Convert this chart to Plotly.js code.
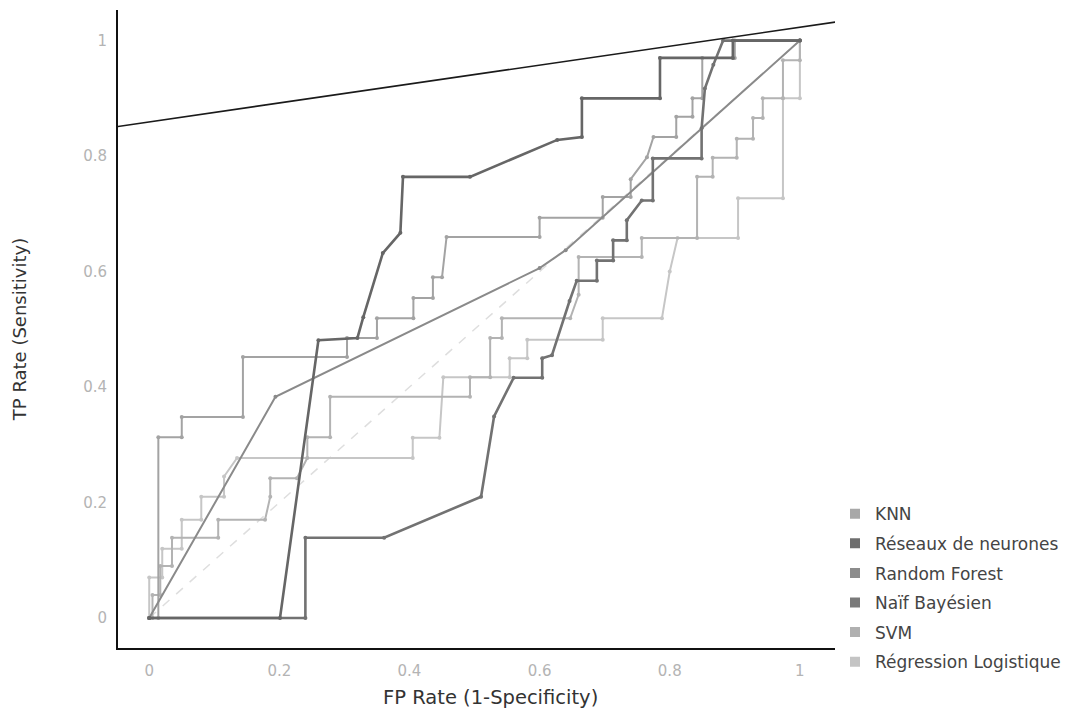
<!DOCTYPE html>
<html>
<head>
<meta charset="utf-8">
<script src="https://cdn.plot.ly/plotly-3.0.1.min.js"></script>
<style>
  html, body { margin: 0; padding: 0; background: #ffffff; }
  #chart { width: 1071px; height: 710px; }
</style>
</head>
<body>
<div id="chart"></div>
<script>
// ROC curves of six classifiers: false positive rate (x) vs true positive rate (y)
const modelNames = ["KNN", "Réseaux de neurones", "Random Forest", "Naïf Bayésien", "SVM", "Régression Logistique"];

const knnFpr = [0, 0.014, 0.014, 0.05, 0.05, 0.144, 0.144, 0.304, 0.304, 0.35, 0.35, 0.406, 0.406, 0.436, 0.436, 0.45, 0.457, 0.6, 0.6, 0.697, 0.697, 0.74, 0.74, 0.765, 0.775, 0.81, 0.81, 0.835, 0.835, 0.85, 0.85, 0.9, 0.9, 1];
const knnTpr = [0, 0, 0.313, 0.313, 0.348, 0.348, 0.452, 0.452, 0.485, 0.485, 0.519, 0.519, 0.554, 0.554, 0.59, 0.59, 0.66, 0.66, 0.693, 0.693, 0.729, 0.729, 0.76, 0.798, 0.833, 0.833, 0.868, 0.868, 0.9, 0.9, 0.97, 0.97, 1, 1];

const nnFpr = [0, 0.201, 0.26, 0.32, 0.329, 0.359, 0.386, 0.39, 0.493, 0.627, 0.665, 0.665, 0.785, 0.785, 0.897, 0.897, 1];
const nnTpr = [0, 0, 0.481, 0.485, 0.521, 0.632, 0.667, 0.764, 0.764, 0.828, 0.833, 0.9, 0.9, 0.97, 0.97, 1, 1];

const rfFpr = [0, 0.194, 0.6, 0.64, 1];
const rfTpr = [0, 0.383, 0.606, 0.637, 1];

const nbFpr = [0, 0.24, 0.24, 0.361, 0.51, 0.53, 0.56, 0.604, 0.604, 0.619, 0.646, 0.657, 0.688, 0.688, 0.713, 0.713, 0.734, 0.734, 0.757, 0.774, 0.774, 0.849, 0.849, 0.854, 0.867, 0.882, 1];
const nbTpr = [0, 0, 0.139, 0.139, 0.21, 0.349, 0.416, 0.416, 0.45, 0.455, 0.549, 0.584, 0.584, 0.619, 0.619, 0.654, 0.654, 0.689, 0.723, 0.723, 0.796, 0.796, 0.848, 0.917, 0.958, 1, 1];

const svmFpr = [0, 0.005, 0.005, 0.017, 0.017, 0.035, 0.035, 0.106, 0.106, 0.178, 0.186, 0.186, 0.227, 0.243, 0.243, 0.278, 0.278, 0.493, 0.493, 0.524, 0.524, 0.542, 0.542, 0.647, 0.66, 0.66, 0.757, 0.757, 0.842, 0.842, 0.866, 0.866, 0.903, 0.903, 0.928, 0.928, 0.943, 0.943, 0.974, 0.974, 1, 1];
const svmTpr = [0, 0, 0.04, 0.04, 0.09, 0.09, 0.139, 0.139, 0.17, 0.17, 0.21, 0.242, 0.242, 0.277, 0.313, 0.313, 0.383, 0.383, 0.417, 0.417, 0.485, 0.485, 0.519, 0.519, 0.56, 0.625, 0.625, 0.658, 0.658, 0.764, 0.764, 0.797, 0.797, 0.83, 0.83, 0.866, 0.866, 0.9, 0.9, 0.966, 0.966, 1];

const lrFpr = [0, 0, 0.02, 0.02, 0.05, 0.05, 0.08, 0.08, 0.115, 0.115, 0.135, 0.405, 0.405, 0.446, 0.452, 0.554, 0.554, 0.581, 0.581, 0.697, 0.697, 0.788, 0.8, 0.812, 0.905, 0.905, 0.974, 0.974, 1, 1];
const lrTpr = [0, 0.07, 0.07, 0.12, 0.12, 0.17, 0.17, 0.21, 0.21, 0.245, 0.277, 0.277, 0.312, 0.312, 0.417, 0.417, 0.45, 0.45, 0.482, 0.482, 0.519, 0.519, 0.6, 0.658, 0.658, 0.727, 0.727, 0.9, 0.9, 1];

// reference diagonal (random classifier) and the straight iso-performance line
const chanceX = [0, 1];
const chanceY = [0, 1];
const isoX = [-0.05, 1.06];
const isoY = [0.851, 1.033];

const xTitle = "FP Rate (1-Specificity)";
const yTitle = "TP Rate (Sensitivity)";

const lineColors = ["#a3a3a3", "#666666", "#8a8a8a", "#727272", "#b3b3b3", "#c6c6c6"];
const legendColors = ["#a8a8a8", "#6e6e6e", "#8c8c8c", "#7a7a7a", "#b0b0b0", "#c4c4c4"];
const lineWidths = [2, 2.6, 2, 2.6, 2, 2];

const curveData = [
  [knnFpr, knnTpr],
  [nnFpr, nnTpr],
  [rfFpr, rfTpr],
  [nbFpr, nbTpr],
  [svmFpr, svmTpr],
  [lrFpr, lrTpr]
];

const traces = [];

traces.push({
  x: chanceX, y: chanceY, mode: "lines", showlegend: false, hoverinfo: "skip",
  line: { color: "#dedede", width: 1.5, dash: "dash" }
});

// light curves first so the darker ones sit on top
const drawOrder = [5, 4, 0, 2, 3, 1];
drawOrder.forEach(function (i) {
  traces.push({
    x: curveData[i][0], y: curveData[i][1],
    mode: "lines+markers", showlegend: false, name: modelNames[i],
    line: { color: lineColors[i], width: lineWidths[i] },
    marker: { color: lineColors[i], size: 4 }
  });
});

traces.push({
  x: isoX, y: isoY, mode: "lines", showlegend: false, hoverinfo: "skip",
  line: { color: "#1a1a1a", width: 1.6 }
});

// square swatches for the legend
modelNames.forEach(function (name, i) {
  traces.push({
    x: [null], y: [null], mode: "markers", name: name, legendgroup: "g" + i,
    marker: { symbol: "square", size: 10, color: legendColors[i] }
  });
});

const layout = {
  width: 1071, height: 710,
  paper_bgcolor: "#ffffff", plot_bgcolor: "#ffffff",
  margin: { l: 118, r: 236, t: 10, b: 62, autoexpand: false },
  font: { family: "DejaVu Sans, Verdana, sans-serif", color: "#333333" },
  showlegend: true,
  legend: {
    x: 1.0, xanchor: "left", y: 0.238, yanchor: "top",
    traceorder: "grouped", tracegroupgap: 4.5,
    font: { size: 17, color: "#444444", family: "DejaVu Sans, Verdana, sans-serif" },
    bgcolor: "rgba(0,0,0,0)"
  },
  // x-axis title sits slightly right of the axis centre
  annotations: [{
    text: xTitle, xref: "paper", yref: "paper", x: 0.519, y: -0.077,
    xanchor: "center", yanchor: "middle", showarrow: false,
    font: { size: 19.5, color: "#333333" }
  }],
  xaxis: {
    range: [-0.048, 1.054], showgrid: false, zeroline: false,
    showline: true, linecolor: "#111111", linewidth: 1.6, mirror: false,
    tickvals: [0, 0.2, 0.4, 0.6, 0.8, 1], ticktext: ["0", "0.2", "0.4", "0.6", "0.8", "1"],
    ticks: "outside", ticklen: 8, tickcolor: "rgba(0,0,0,0)",
    tickfont: { size: 15, color: "#b4b4b4" },
    automargin: false, fixedrange: true
  },
  yaxis: {
    range: [-0.052, 1.053], showgrid: false, zeroline: false,
    showline: true, linecolor: "#111111", linewidth: 2, mirror: false,
    tickvals: [0, 0.2, 0.4, 0.6, 0.8, 1], ticktext: ["0", "0.2", "0.4", "0.6", "0.8", "1"],
    ticks: "outside", ticklen: 6, tickcolor: "rgba(0,0,0,0)",
    tickfont: { size: 15, color: "#b4b4b4" },
    title: { text: yTitle, font: { size: 18, color: "#333333" }, standoff: 52 },
    automargin: false, fixedrange: true
  }
};

Plotly.newPlot("chart", traces, layout, { staticPlot: true, displayModeBar: false });
</script>
</body>
</html>
